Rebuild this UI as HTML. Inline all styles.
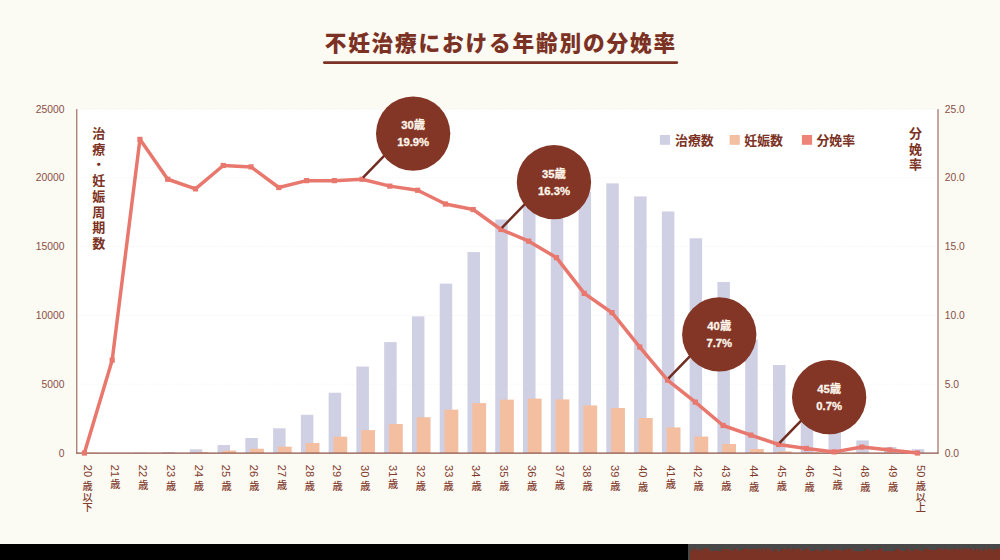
<!DOCTYPE html>
<html lang="ja"><head><meta charset="utf-8"><title>不妊治療における年齢別の分娩率</title>
<style>html,body{margin:0;padding:0;background:#fbfaf3;}body{width:1000px;height:560px;overflow:hidden;font-family:"Liberation Sans",sans-serif;}svg{display:block}</style>
</head><body>
<svg width="1000" height="560" viewBox="0 0 1000 560" role="img" aria-label="不妊治療における年齢別の分娩率">
<desc>不妊治療における年齢別の分娩率。凡例：治療数・妊娠数・分娩率。左軸：治療・妊娠周期数（0〜25000）。右軸：分娩率（0.0〜25.0）。横軸：20歳以下、21歳〜49歳、50歳以上。30歳 19.9%、35歳 16.3%、40歳 7.7%、45歳 0.7%。</desc>
<defs><clipPath id="cb"><rect x="688" y="544" width="312" height="16"/></clipPath></defs>
<rect width="1000" height="560" fill="#fbfaf3"/>
<rect x="76.8" y="109.1" width="861.2" height="343.9" fill="#fff"/>
<line x1="76.8" x2="938.0" y1="384.22" y2="384.22" stroke="#f5f4f1" stroke-width="1" stroke-dasharray="1.5 1.5"/>
<line x1="76.8" x2="938.0" y1="315.44" y2="315.44" stroke="#f5f4f1" stroke-width="1" stroke-dasharray="1.5 1.5"/>
<line x1="76.8" x2="938.0" y1="246.66" y2="246.66" stroke="#f5f4f1" stroke-width="1" stroke-dasharray="1.5 1.5"/>
<line x1="76.8" x2="938.0" y1="177.88" y2="177.88" stroke="#f5f4f1" stroke-width="1" stroke-dasharray="1.5 1.5"/>
<line x1="76.8" x2="938.0" y1="109.1" y2="109.1" stroke="#f5f4f1" stroke-width="1" stroke-dasharray="1.5 1.5"/>
<g fill="#cfd0e3"><rect x="134.24" y="452.59" width="12.5" height="0.41"/><rect x="162.01" y="452.04" width="12.5" height="0.96"/><rect x="189.78" y="449.29" width="12.5" height="3.71"/><rect x="217.55" y="445.02" width="12.5" height="7.98"/><rect x="245.32" y="438.01" width="12.5" height="14.99"/><rect x="273.09" y="428.31" width="12.5" height="24.69"/><rect x="300.86" y="414.81" width="12.5" height="38.19"/><rect x="328.63" y="392.72" width="12.5" height="60.28"/><rect x="356.4" y="366.53" width="12.5" height="86.47"/><rect x="384.17" y="342.13" width="12.5" height="110.87"/><rect x="411.94" y="316.4" width="12.5" height="136.6"/><rect x="439.71" y="283.65" width="12.5" height="169.35"/><rect x="467.48" y="252.05" width="12.5" height="200.95"/><rect x="495.25" y="219.57" width="12.5" height="233.43"/><rect x="523.02" y="206.08" width="12.5" height="246.92"/><rect x="550.79" y="198.51" width="12.5" height="254.49"/><rect x="578.56" y="191.64" width="12.5" height="261.36"/><rect x="606.33" y="183.38" width="12.5" height="269.62"/><rect x="634.1" y="196.45" width="12.5" height="256.55"/><rect x="661.87" y="211.47" width="12.5" height="241.53"/><rect x="689.64" y="238.27" width="12.5" height="214.73"/><rect x="717.41" y="281.94" width="12.5" height="171.06"/><rect x="745.18" y="339.51" width="12.5" height="113.49"/><rect x="772.95" y="365.03" width="12.5" height="87.97"/><rect x="800.72" y="393.85" width="12.5" height="59.15"/><rect x="828.49" y="418.61" width="12.5" height="34.39"/><rect x="856.26" y="440.41" width="12.5" height="12.59"/><rect x="884.03" y="447.08" width="12.5" height="5.92"/><rect x="911.8" y="449.22" width="12.5" height="3.78"/></g>
<g fill="#f4bea0"><rect x="83.5" y="452.66" width="13.8" height="0.34"/><rect x="194.58" y="452.17" width="13.8" height="0.83"/><rect x="222.35" y="450.52" width="13.8" height="2.48"/><rect x="250.12" y="448.74" width="13.8" height="4.26"/><rect x="277.89" y="446.67" width="13.8" height="6.33"/><rect x="305.66" y="443" width="13.8" height="10"/><rect x="333.43" y="436.7" width="13.8" height="16.3"/><rect x="361.2" y="430.11" width="13.8" height="22.89"/><rect x="388.97" y="424.02" width="13.8" height="28.98"/><rect x="416.74" y="417.23" width="13.8" height="35.77"/><rect x="444.51" y="409.67" width="13.8" height="43.33"/><rect x="472.28" y="403.12" width="13.8" height="49.88"/><rect x="500.05" y="399.63" width="13.8" height="53.37"/><rect x="527.82" y="398.62" width="13.8" height="54.38"/><rect x="555.59" y="399.42" width="13.8" height="53.58"/><rect x="583.36" y="405.42" width="13.8" height="47.58"/><rect x="611.13" y="408.02" width="13.8" height="44.98"/><rect x="638.9" y="418" width="13.8" height="35"/><rect x="666.67" y="427.41" width="13.8" height="25.59"/><rect x="694.44" y="436.6" width="13.8" height="16.4"/><rect x="722.21" y="444" width="13.8" height="9"/><rect x="749.98" y="449.01" width="13.8" height="3.99"/><rect x="777.75" y="451.4" width="13.8" height="1.6"/><rect x="805.52" y="452.45" width="13.8" height="0.55"/></g>
<g stroke="#8c5347" stroke-width="1" fill="none"><line x1="76.8" y1="109.1" x2="76.8" y2="453.5"/><line x1="938.0" y1="109.1" x2="938.0" y2="453.5"/><line x1="76.3" y1="453.1" x2="938.5" y2="453.1" stroke-width="1.3"/></g>
<polyline fill="none" stroke="#e8786d" stroke-width="3.5" stroke-linejoin="round" points="84.4,453 112.17,360.15 139.94,139.36 167.71,179.26 195.48,188.88 223.25,165.5 251.02,166.88 278.79,187.51 306.56,180.63 334.33,180.63 362.1,179.26 389.87,186.13 417.64,190.26 445.41,204.02 473.18,209.52 500.95,229.47 528.72,241.16 556.49,257.66 584.26,293.43 612.03,312.69 639.8,347.08 667.57,380.09 695.34,402.1 723.11,425.49 750.88,435.12 778.65,444.47 806.42,448.46 834.19,451.9 861.96,447.08 889.73,449.97 917.5,453"/>
<g fill="#e8786d"><rect x="81.8" y="450.4" width="5.2" height="5.2"/><rect x="109.57" y="357.55" width="5.2" height="5.2"/><rect x="137.34" y="136.76" width="5.2" height="5.2"/><rect x="165.11" y="176.66" width="5.2" height="5.2"/><rect x="192.88" y="186.28" width="5.2" height="5.2"/><rect x="220.65" y="162.9" width="5.2" height="5.2"/><rect x="248.42" y="164.28" width="5.2" height="5.2"/><rect x="276.19" y="184.91" width="5.2" height="5.2"/><rect x="303.96" y="178.03" width="5.2" height="5.2"/><rect x="331.73" y="178.03" width="5.2" height="5.2"/><rect x="359.5" y="176.66" width="5.2" height="5.2"/><rect x="387.27" y="183.53" width="5.2" height="5.2"/><rect x="415.04" y="187.66" width="5.2" height="5.2"/><rect x="442.81" y="201.42" width="5.2" height="5.2"/><rect x="470.58" y="206.92" width="5.2" height="5.2"/><rect x="498.35" y="226.87" width="5.2" height="5.2"/><rect x="526.12" y="238.56" width="5.2" height="5.2"/><rect x="553.89" y="255.06" width="5.2" height="5.2"/><rect x="581.66" y="290.83" width="5.2" height="5.2"/><rect x="609.43" y="310.09" width="5.2" height="5.2"/><rect x="637.2" y="344.48" width="5.2" height="5.2"/><rect x="664.97" y="377.49" width="5.2" height="5.2"/><rect x="692.74" y="399.5" width="5.2" height="5.2"/><rect x="720.51" y="422.89" width="5.2" height="5.2"/><rect x="748.28" y="432.52" width="5.2" height="5.2"/><rect x="776.05" y="441.87" width="5.2" height="5.2"/><rect x="803.82" y="445.86" width="5.2" height="5.2"/><rect x="831.59" y="449.3" width="5.2" height="5.2"/><rect x="859.36" y="444.48" width="5.2" height="5.2"/><rect x="887.13" y="447.37" width="5.2" height="5.2"/><rect x="914.9" y="450.4" width="5.2" height="5.2"/></g>
<line x1="363" y1="177.66" x2="388" y2="151.91" stroke="#702d22" stroke-width="2.5"/>
<circle cx="413.15" cy="133.6" r="37.15" fill="#843626"/>
<g fill="#fdf5ea" stroke="#fdf5ea" stroke-width="0.3" font-family="'Liberation Sans','Noto Sans CJK JP',sans-serif" font-size="11.3" font-weight="bold" text-anchor="middle"><text x="413.15" y="129.1">30歳</text><text x="413.15" y="146.1">19.9%</text></g>
<line x1="501.85" y1="227.87" x2="526.85" y2="202.12" stroke="#702d22" stroke-width="2.5"/>
<circle cx="553.95" cy="182.2" r="37.15" fill="#843626"/>
<g fill="#fdf5ea" stroke="#fdf5ea" stroke-width="0.3" font-family="'Liberation Sans','Noto Sans CJK JP',sans-serif" font-size="11.3" font-weight="bold" text-anchor="middle"><text x="553.95" y="177.7">35歳</text><text x="553.95" y="194.7">16.3%</text></g>
<line x1="668.47" y1="378.49" x2="693.47" y2="352.74" stroke="#702d22" stroke-width="2.5"/>
<circle cx="719.25" cy="334.4" r="37.15" fill="#843626"/>
<g fill="#fdf5ea" stroke="#fdf5ea" stroke-width="0.3" font-family="'Liberation Sans','Noto Sans CJK JP',sans-serif" font-size="11.3" font-weight="bold" text-anchor="middle"><text x="719.25" y="329.9">40歳</text><text x="719.25" y="346.9">7.7%</text></g>
<line x1="779.55" y1="442.87" x2="804.55" y2="417.12" stroke="#702d22" stroke-width="2.5"/>
<circle cx="829.15" cy="397.15" r="37.15" fill="#843626"/>
<g fill="#fdf5ea" stroke="#fdf5ea" stroke-width="0.3" font-family="'Liberation Sans','Noto Sans CJK JP',sans-serif" font-size="11.3" font-weight="bold" text-anchor="middle"><text x="829.15" y="392.65">45歳</text><text x="829.15" y="409.65">0.7%</text></g>
<rect x="659.9" y="135" width="10.2" height="9.8" fill="#cfd0e3"/>
<text x="675" y="144.9" fill="#7b3224" font-family="'Liberation Sans','Noto Sans CJK JP',sans-serif" font-size="12.9" font-weight="bold">治療数</text>
<rect x="729.6" y="135" width="10.2" height="9.8" fill="#f4bea0"/>
<text x="744.3" y="144.9" fill="#7b3224" font-family="'Liberation Sans','Noto Sans CJK JP',sans-serif" font-size="12.9" font-weight="bold">妊娠数</text>
<rect x="801.9" y="135" width="10.2" height="9.8" fill="#ee8378"/>
<text x="816.4" y="144.9" fill="#7b3224" font-family="'Liberation Sans','Noto Sans CJK JP',sans-serif" font-size="12.9" font-weight="bold">分娩率</text>
<text fill="#7b3224" font-family="'Liberation Sans','Noto Sans CJK JP',sans-serif" font-size="13" font-weight="bold"><tspan x="92.3" y="137.94">治</tspan><tspan x="92.3" y="153.69">療</tspan><tspan x="92.3" y="169.44">・</tspan><tspan x="92.3" y="185.19">妊</tspan><tspan x="92.3" y="200.94">娠</tspan><tspan x="92.3" y="216.69">周</tspan><tspan x="92.3" y="232.44">期</tspan><tspan x="92.3" y="248.19">数</tspan></text>
<text fill="#7b3224" font-family="'Liberation Sans','Noto Sans CJK JP',sans-serif" font-size="13" font-weight="bold"><tspan x="908.9" y="137.94">分</tspan><tspan x="908.9" y="153.54">娩</tspan><tspan x="908.9" y="169.14">率</tspan></text>
<g fill="#8a4e43" font-family="'Liberation Sans',sans-serif" font-size="10.3">
<g text-anchor="end"><text x="64.4" y="456.6">0</text><text x="64.4" y="387.82">5000</text><text x="64.4" y="319.04">10000</text><text x="64.4" y="250.26">15000</text><text x="64.4" y="181.48">20000</text><text x="64.4" y="112.7">25000</text></g>
<g><text x="944.7" y="456.6">0.0</text><text x="944.7" y="387.82">5.0</text><text x="944.7" y="319.04">10.0</text><text x="944.7" y="250.26">15.0</text><text x="944.7" y="181.48">20.0</text><text x="944.7" y="112.7">25.0</text></g>
</g>
<g fill="#823a2d" font-family="'Liberation Sans','Noto Sans CJK JP',sans-serif" font-weight="500">
<g font-size="11">
<text transform="translate(83.5,464.84) rotate(90)">20</text>
<text transform="translate(111.27,464.84) rotate(90)">21</text>
<text transform="translate(139.04,464.84) rotate(90)">22</text>
<text transform="translate(166.81,464.84) rotate(90)">23</text>
<text transform="translate(194.58,464.84) rotate(90)">24</text>
<text transform="translate(222.35,464.84) rotate(90)">25</text>
<text transform="translate(250.12,464.84) rotate(90)">26</text>
<text transform="translate(277.89,464.84) rotate(90)">27</text>
<text transform="translate(305.66,464.84) rotate(90)">28</text>
<text transform="translate(333.43,464.84) rotate(90)">29</text>
<text transform="translate(361.2,465.03) rotate(90)">30</text>
<text transform="translate(388.97,465.03) rotate(90)">31</text>
<text transform="translate(416.74,465.03) rotate(90)">32</text>
<text transform="translate(444.51,465.03) rotate(90)">33</text>
<text transform="translate(472.28,465.03) rotate(90)">34</text>
<text transform="translate(500.05,465.03) rotate(90)">35</text>
<text transform="translate(527.82,465.03) rotate(90)">36</text>
<text transform="translate(555.59,465.03) rotate(90)">37</text>
<text transform="translate(583.36,465.03) rotate(90)">38</text>
<text transform="translate(611.13,465.03) rotate(90)">39</text>
<text transform="translate(638.9,465.18) rotate(90)">40</text>
<text transform="translate(666.67,465.18) rotate(90)">41</text>
<text transform="translate(694.44,465.18) rotate(90)">42</text>
<text transform="translate(722.21,465.18) rotate(90)">43</text>
<text transform="translate(749.98,465.18) rotate(90)">44</text>
<text transform="translate(777.75,465.18) rotate(90)">45</text>
<text transform="translate(805.52,465.18) rotate(90)">46</text>
<text transform="translate(833.29,465.18) rotate(90)">47</text>
<text transform="translate(861.06,465.18) rotate(90)">48</text>
<text transform="translate(888.83,465.18) rotate(90)">49</text>
<text transform="translate(916.6,465.03) rotate(90)">50</text>
</g>
<g font-size="10.2">
<text><tspan x="82.6" y="490.21">歳</tspan><tspan x="82.6" y="500.56">以</tspan><tspan x="82.6" y="510.91">下</tspan></text>
<text x="110.37" y="487.61">歳</text>
<text x="138.14" y="489.41">歳</text>
<text x="165.91" y="489.61">歳</text>
<text x="193.68" y="490.11">歳</text>
<text x="221.45" y="489.61">歳</text>
<text x="249.22" y="489.81">歳</text>
<text x="276.99" y="488.71">歳</text>
<text x="304.76" y="489.91">歳</text>
<text x="332.53" y="489.81">歳</text>
<text x="360.3" y="490.41">歳</text>
<text x="388.07" y="487.81">歳</text>
<text x="415.84" y="489.61">歳</text>
<text x="443.61" y="489.81">歳</text>
<text x="471.38" y="490.31">歳</text>
<text x="499.15" y="489.81">歳</text>
<text x="526.92" y="490.01">歳</text>
<text x="554.69" y="488.91">歳</text>
<text x="582.46" y="490.11">歳</text>
<text x="610.23" y="490.01">歳</text>
<text x="638" y="490.91">歳</text>
<text x="665.77" y="488.31">歳</text>
<text x="693.54" y="490.11">歳</text>
<text x="721.31" y="490.31">歳</text>
<text x="749.08" y="490.81">歳</text>
<text x="776.85" y="490.31">歳</text>
<text x="804.62" y="490.51">歳</text>
<text x="832.39" y="489.41">歳</text>
<text x="860.16" y="490.61">歳</text>
<text x="887.93" y="490.51">歳</text>
<text><tspan x="915.7" y="490.41">歳</tspan><tspan x="915.7" y="500.76">以</tspan><tspan x="915.7" y="511.11">上</tspan></text>
</g>
</g>
<text x="324.65" y="50.9" fill="#7b3224" font-family="'Liberation Sans','Noto Sans CJK JP',sans-serif" font-size="21.7" font-weight="900" letter-spacing="1.8">不妊治療における年齢別の分娩率</text>
<line x1="324.3" x2="676.8" y1="62.6" y2="62.6" stroke="#7b3224" stroke-width="2.7" stroke-linecap="round"/>
<rect x="0" y="544" width="688" height="16" fill="#000"/>
<rect x="688" y="544" width="312" height="16" fill="#484848"/>
<g clip-path="url(#cb)"><text x="690.2" y="557.6" fill="#7b3325" stroke="#7b3325" stroke-width="0.9" stroke-linejoin="round" font-family="'Liberation Sans','Noto Sans CJK JP',sans-serif" font-size="10.5" font-weight="900" letter-spacing="-0.4">出典：日本産科婦人科学会ＡＲＴデータブックより作成年齢別分娩率</text><rect x="690" y="551.2" width="310" height="9" fill="#7b3325"/></g>
</svg>
</body></html>
